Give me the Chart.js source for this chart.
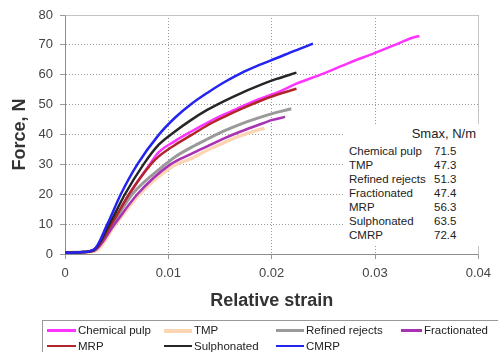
<!DOCTYPE html>
<html>
<head>
<meta charset="utf-8">
<script src="https://cdn.jsdelivr.net/npm/chart.js@4"></script>
<style>
  html, body { margin: 0; padding: 0; background: #fff; overflow: hidden; }
  #wrap { position: relative; width: 498px; height: 352px; font-family: "Liberation Sans", Arial, sans-serif; }
  #smax { position: absolute; left: 345px; top: 124px; width: 135px; height: 122px; background: #fff; color: #222; }
  #smax .head { position: absolute; right: 4px; top: 2px; font-size: 13px; line-height: 16px; }
  #smax .row { position: absolute; left: 0; font-size: 11.5px; line-height: 14px; white-space: nowrap; }
  #smax .row span { position: absolute; }
  #legend { position: absolute; left: 42px; top: 320px; width: 470px; height: 40px; border: 1px solid #999; box-sizing: border-box; }
  #legend .item { position: absolute; font-size: 11.5px; line-height: 14px; color: #222; white-space: nowrap; }
  #legend .swatch { position: absolute; top: 6px; }
</style>
</head>
<body>
<div id="wrap">
  <canvas id="chart" width="498" height="352"></canvas>
  <div id="smax"><div class="head">Smax, N/m</div></div>
  <div id="legend"></div>
</div>
<script>
const seriesNames = ['Chemical pulp', 'TMP', 'Refined rejects', 'Fractionated', 'MRP', 'Sulphonated', 'CMRP'];
const seriesColors = ['#ff33ff', '#fcd6b4', '#9a9a9a', '#a832b4', '#b0262b', '#262626', '#2424f0'];
const seriesWidths = [2.5, 3.5, 3, 2.5, 2.5, 2.5, 2.5];
const smaxValues = [71.5, 47.3, 51.3, 47.4, 56.3, 63.5, 72.4];

const chemStrain = [0, 0.0015, 0.0027, 0.0045, 0.0062, 0.0082, 0.00905, 0.01064, 0.01222, 0.0138, 0.0154, 0.017, 0.01857, 0.0205, 0.0224, 0.025, 0.0275, 0.03, 0.032, 0.0336, 0.0343];
const chemForce  = [0.4, 0.6, 1.3, 10, 20, 30, 34, 37.8, 41, 44, 46.7, 49.2, 51.6, 54, 57, 60.4, 64, 67.3, 70.1, 72.4, 73];

const tmpStrain = [0, 0.0015, 0.0029, 0.0049, 0.0072, 0.0105, 0.01222, 0.0138, 0.0154, 0.017, 0.01857, 0.0193];
const tmpForce  = [0.4, 0.6, 1.0, 10, 20, 29.5, 32, 34.8, 37.3, 39.6, 41.4, 42.1];

const refStrain = [0, 0.0015, 0.0028, 0.0046, 0.0065, 0.0097, 0.01064, 0.01222, 0.0138, 0.0154, 0.017, 0.01857, 0.02048, 0.0219];
const refForce  = [0.4, 0.6, 1.2, 10, 20, 30, 32.5, 35.7, 38.5, 41.2, 43.5, 45.4, 47.4, 48.6];

const fracStrain = [0, 0.0015, 0.0028, 0.0048, 0.007, 0.0102, 0.01222, 0.0138, 0.0154, 0.017, 0.01857, 0.02, 0.0213];
const fracForce  = [0.4, 0.6, 1.1, 10, 20, 30, 33.5, 36.1, 38.7, 41, 43, 44.8, 45.9];

const mrpStrain = [0, 0.0015, 0.0028, 0.0045, 0.0062, 0.0083, 0.00905, 0.01064, 0.01222, 0.0138, 0.0154, 0.017, 0.01857, 0.02048, 0.0224];
const mrpForce  = [0.4, 0.6, 1.3, 10, 20, 30, 32.6, 36.5, 39.8, 43.1, 45.9, 48.5, 50.8, 53.3, 55.3];

const sulStrain = [0, 0.0015, 0.0028, 0.0043, 0.0058, 0.0076, 0.00905, 0.01064, 0.01222, 0.0138, 0.0154, 0.017, 0.01857, 0.02048, 0.0224];
const sulForce  = [0.4, 0.6, 1.4, 10, 20, 30, 36.5, 41, 44.9, 48.3, 51.2, 53.8, 56.1, 58.6, 60.7];

const cmrpStrain = [0, 0.0015, 0.0028, 0.0041, 0.0054, 0.007, 0.00905, 0.01064, 0.01222, 0.0138, 0.0154, 0.017, 0.0186, 0.0205, 0.0222, 0.024];
const cmrpForce  = [0.4, 0.6, 1.5, 10, 20, 30, 39.8, 45.6, 50.2, 54, 57.5, 60.5, 63, 65.6, 68, 70.4];

const xTicks = [0, 0.01, 0.02, 0.03, 0.04];

const strainSets = [chemStrain, tmpStrain, refStrain, fracStrain, mrpStrain, sulStrain, cmrpStrain];
const forceSets = [chemForce, tmpForce, refForce, fracForce, mrpForce, sulForce, cmrpForce];

const FONT = '"Liberation Sans", Arial, sans-serif';

const datasets = seriesNames.map((name, i) => ({
  label: name,
  data: strainSets[i].map((x, j) => ({ x: x, y: forceSets[i][j] })),
  borderColor: seriesColors[i],
  backgroundColor: seriesColors[i],
  borderWidth: seriesWidths[i],
  pointRadius: 0,
  cubicInterpolationMode: 'monotone',
  fill: false,
  order: seriesNames.length - i,
}));

// solid light frame on top and right like the original plot area
const framePlugin = {
  id: 'frame',
  afterDatasetsDraw(chart) {
    const { ctx, chartArea: a } = chart;
    ctx.save();
    ctx.strokeStyle = '#c4c4c4';
    ctx.lineWidth = 1;
    ctx.beginPath();
    ctx.moveTo(Math.round(a.left) + 0.5, Math.round(a.top) + 0.5);
    ctx.lineTo(Math.round(a.right) + 0.5, Math.round(a.top) + 0.5);
    ctx.lineTo(Math.round(a.right) + 0.5, Math.round(a.bottom) + 0.5);
    ctx.stroke();
    ctx.restore();
  }
};

new Chart(document.getElementById('chart'), {
  type: 'line',
  data: { datasets: datasets },
  plugins: [framePlugin],
  options: {
    responsive: false,
    animation: false,
    devicePixelRatio: 1,
    layout: { padding: { top: 15, right: 13, bottom: 38, left: 0 } },
    plugins: { legend: { display: false }, tooltip: { enabled: false } },
    scales: {
      x: {
        type: 'linear',
        min: 0,
        max: 0.04,
        afterFit: (s) => { s.height = 60; },
        afterBuildTicks: (s) => { s.ticks = xTicks.map(v => ({ value: v })); },
        ticks: {
          font: { family: FONT, size: 13 },
          color: '#444',
          padding: 7,
          maxRotation: 0,
          callback: (v) => String(Number(v.toFixed(2))),
        },
        grid: { color: '#9a9a9a', lineWidth: 1, tickLength: 5 },
        border: { display: true, color: '#8c8c8c', width: 1, dash: [1, 2] },
        title: {
          display: true,
          text: 'Relative strain',
          color: '#333',
          font: { family: FONT, size: 18, weight: 'bold' },
          padding: { top: 0, bottom: 2 },
        },
      },
      y: {
        min: 0,
        max: 80,
        afterFit: (s) => { s.width = 65; },
        ticks: {
          stepSize: 10,
          font: { family: FONT, size: 13 },
          color: '#444',
          padding: 7,
        },
        grid: { color: '#9a9a9a', lineWidth: 1, tickLength: 5 },
        border: { display: true, color: '#8c8c8c', width: 1, dash: [1, 2] },
        title: {
          display: true,
          text: 'Force, N',
          color: '#333',
          font: { family: FONT, size: 18, weight: 'bold' },
          padding: { top: 9, bottom: 0 },
        },
      },
    },
  },
});

// Smax table
const smaxBox = document.getElementById('smax');
seriesNames.forEach((name, i) => {
  const row = document.createElement('div');
  row.className = 'row';
  row.style.top = (19.7 + i * 14.05) + 'px';
  row.innerHTML = '<span style="left:4px">' + name + '</span><span style="left:89px">' + smaxValues[i].toFixed(1) + '</span>';
  smaxBox.appendChild(row);
});

// legend below the chart
const legendCols = [[4, 29], [121, 28], [233, 28], [358, 21]];
const legendRows = [2, 17.5];
const legendBox = document.getElementById('legend');
seriesNames.forEach((name, i) => {
  const col = legendCols[i % 4];
  const item = document.createElement('div');
  item.className = 'item';
  item.style.left = col[0] + 'px';
  item.style.top = legendRows[Math.floor(i / 4)] + 'px';
  item.innerHTML = '<div class="swatch" style="left:0;width:' + col[1] + 'px;height:' + seriesWidths[i] + 'px;background:' + seriesColors[i] + '"></div>' +
    '<span style="position:absolute;left:' + (col[1] + 2) + 'px;top:0">' + name + '</span>';
  legendBox.appendChild(item);
});
</script>
</body>
</html>
